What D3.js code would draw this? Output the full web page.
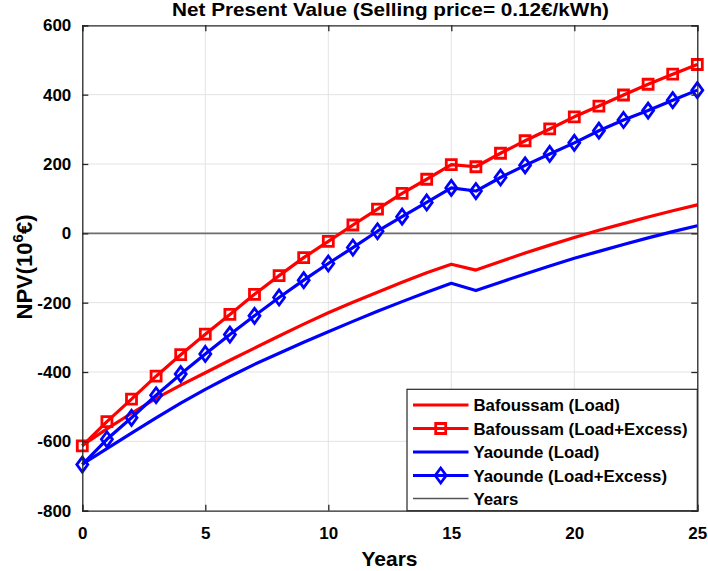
<!DOCTYPE html>
<html>
<head>
<meta charset="utf-8">
<script src="https://cdn.jsdelivr.net/npm/d3@7"></script>
<style>
  html, body { margin: 0; padding: 0; background: #fff; }
  svg { display: block; font-family: "Liberation Sans", Arial, Helvetica, sans-serif; }
</style>
</head>
<body>
<svg id="chart" width="708" height="571"></svg>
<script>
// ---------------- data ----------------
const years = d3.range(0, 26);
const bafoussamLoad = [-612, -564, -519, -476, -438, -402, -366, -331, -296, -262, -229, -199, -170, -141, -114, -89,
                       -106, -81, -57, -34, -12, 9, 28, 47, 65, 82];
const bafoussamExcess = [-613, -543, -478, -412, -350, -291, -234, -176, -122, -70, -23, 24, 70, 115, 156, 198,
                         192, 231, 267, 301, 336, 367, 399, 430, 459, 487];
const yaoundeLoad = [-666, -621, -576, -532, -490, -450, -413, -378, -346, -314, -284, -254, -225, -197, -170, -144,
                     -165, -141, -117, -94, -72, -52, -32, -13, 5, 22];
const yaoundeExcess = [-667, -594, -532, -467, -406, -348, -292, -238, -185, -135, -87, -41, 6, 48, 89, 131,
                       122, 161, 196, 229, 261, 296, 327, 354, 384, 413];
const zeroLine = [0, 0];
const zeroYears = [0, 25];
const xTicks = [0, 5, 10, 15, 20, 25];
const yTicks = [-800, -600, -400, -200, 0, 200, 400, 600];
const legendLabels = ["Bafoussam (Load)", "Bafoussam (Load+Excess)", "Yaounde (Load)", "Yaounde (Load+Excess)", "Years"];

// ---------------- layout ----------------
const svg = d3.select("#chart");
const pL = 82.3, pR = 697.3, pT = 25.3, pB = 510.7;
const x = d3.scaleLinear().domain([0, 25]).range([pL, pR]);
const y = d3.scaleLinear().domain([-800, 600]).range([pB, pT]);
const RED = "#ff0000", BLUE = "#0000ff", AX = "#262626";

// grid
const grid = svg.append("g");
grid.selectAll("line.gx").data(xTicks.slice(1, -1)).join("line")
  .attr("x1", d => x(d)).attr("x2", d => x(d)).attr("y1", pT).attr("y2", pB)
  .attr("stroke", "#e3e3e3").attr("stroke-width", 1);
grid.selectAll("line.gy").data(yTicks.slice(1, -1)).join("line")
  .attr("x1", pL).attr("x2", pR).attr("y1", d => y(d)).attr("y2", d => y(d))
  .attr("stroke", "#e3e3e3").attr("stroke-width", 1);

// zero ("Years") line
svg.append("path")
  .datum(zeroYears.map((v, i) => [v, zeroLine[i]]))
  .attr("d", d3.line().x(d => x(d[0])).y(d => y(d[1])))
  .attr("stroke", "#6e6e6e").attr("stroke-width", 1.6).attr("fill", "none");

const line = d3.line().x((d, i) => x(years[i])).y(d => y(d));

function drawSeries(vals, color) {
  svg.append("path").datum(vals).attr("d", line)
    .attr("fill", "none").attr("stroke", color).attr("stroke-width", 3.2)
    .attr("stroke-linejoin", "round");
}
const sqPath = s => `M${-s},${-s}H${s}V${s}H${-s}Z`;
const diPath = (w, h) => `M0,${-h}L${w},0L0,${h}L${-w},0Z`;

function drawMarkers(vals, color, pathStr) {
  svg.append("g").selectAll("path").data(vals).join("path")
    .attr("transform", (d, i) => `translate(${x(years[i])},${y(d)})`)
    .attr("d", pathStr)
    .attr("fill", "none").attr("stroke", color).attr("stroke-width", 2.8);
}

drawSeries(bafoussamLoad, RED);
drawSeries(bafoussamExcess, RED);
drawMarkers(bafoussamExcess, RED, sqPath(5));
drawSeries(yaoundeLoad, BLUE);
drawSeries(yaoundeExcess, BLUE);
drawMarkers(yaoundeExcess, BLUE, diPath(5.5, 7.5));

// axes (MATLAB style box, inward ticks)
const fmt = d => String(d);
const axB = svg.append("g").attr("transform", `translate(0,${pB})`)
  .call(d3.axisBottom(x).tickValues(xTicks).tickSize(-6).tickPadding(16).tickFormat(fmt));
const axT = svg.append("g").attr("transform", `translate(0,${pT})`)
  .call(d3.axisTop(x).tickValues(xTicks).tickSize(-6).tickFormat(""));
const axL = svg.append("g").attr("transform", `translate(${pL},0)`)
  .call(d3.axisLeft(y).tickValues(yTicks).tickSize(-6).tickPadding(11).tickFormat(fmt));
const axR = svg.append("g").attr("transform", `translate(${pR},0)`)
  .call(d3.axisRight(y).tickValues(yTicks).tickSize(-6).tickFormat(""));
[axB, axT, axL, axR].forEach(a => {
  a.select(".domain").attr("stroke", AX).attr("stroke-width", 1.3);
  a.selectAll(".tick line").attr("stroke", AX).attr("stroke-width", 1.3);
  a.selectAll(".tick text").attr("fill", "#000").attr("font-size", 17).attr("font-weight", "bold")
    .attr("font-family", "Liberation Sans, Arial, sans-serif");
});

// title
svg.append("text").attr("x", 390.5).attr("y", 15.5).attr("text-anchor", "middle")
  .attr("font-size", 18.5).attr("font-weight", "bold")
  .attr("textLength", 437).attr("lengthAdjust", "spacingAndGlyphs")
  .text("Net Present Value (Selling price= 0.12€/kWh)");

// x label
svg.append("text").attr("x", 389.5).attr("y", 566).attr("text-anchor", "middle")
  .attr("font-size", 21).attr("font-weight", "bold").text("Years");

// y label
const yl = svg.append("text").attr("transform", "translate(32,267) rotate(-90)")
  .attr("text-anchor", "middle").attr("font-size", 22).attr("font-weight", "bold");
yl.append("tspan").text("NPV(10");
yl.append("tspan").attr("font-size", 15).attr("dy", -9).text("6");
yl.append("tspan").attr("dy", 9).text("€)");

// legend
const lg = svg.append("g");
lg.append("rect").attr("x", 407).attr("y", 389.3).attr("width", 290.3).attr("height", 121.4)
  .attr("fill", "#fff").attr("stroke", AX).attr("stroke-width", 1.2);
const legendStyles = [
  { color: RED, w: 3.2, marker: null },
  { color: RED, w: 3.2, marker: sqPath(5) },
  { color: BLUE, w: 3.2, marker: null },
  { color: BLUE, w: 3.2, marker: diPath(5.5, 7.5) },
  { color: "#555", w: 1.3, marker: null }
];
const rowY = [405, 428.5, 452, 475.5, 498.5];
legendLabels.forEach((lab, i) => {
  const st = legendStyles[i];
  lg.append("line").attr("x1", 413).attr("x2", 468.5).attr("y1", rowY[i]).attr("y2", rowY[i])
    .attr("stroke", st.color).attr("stroke-width", st.w);
  if (st.marker) {
    lg.append("path").attr("transform", `translate(440.7,${rowY[i]})`).attr("d", st.marker)
      .attr("fill", "none").attr("stroke", st.color).attr("stroke-width", 2.8);
  }
  lg.append("text").attr("x", 473.5).attr("y", rowY[i]).attr("dy", "0.36em")
    .attr("font-size", 16.8).attr("font-weight", "bold").text(lab);
});
</script>
</body>
</html>
